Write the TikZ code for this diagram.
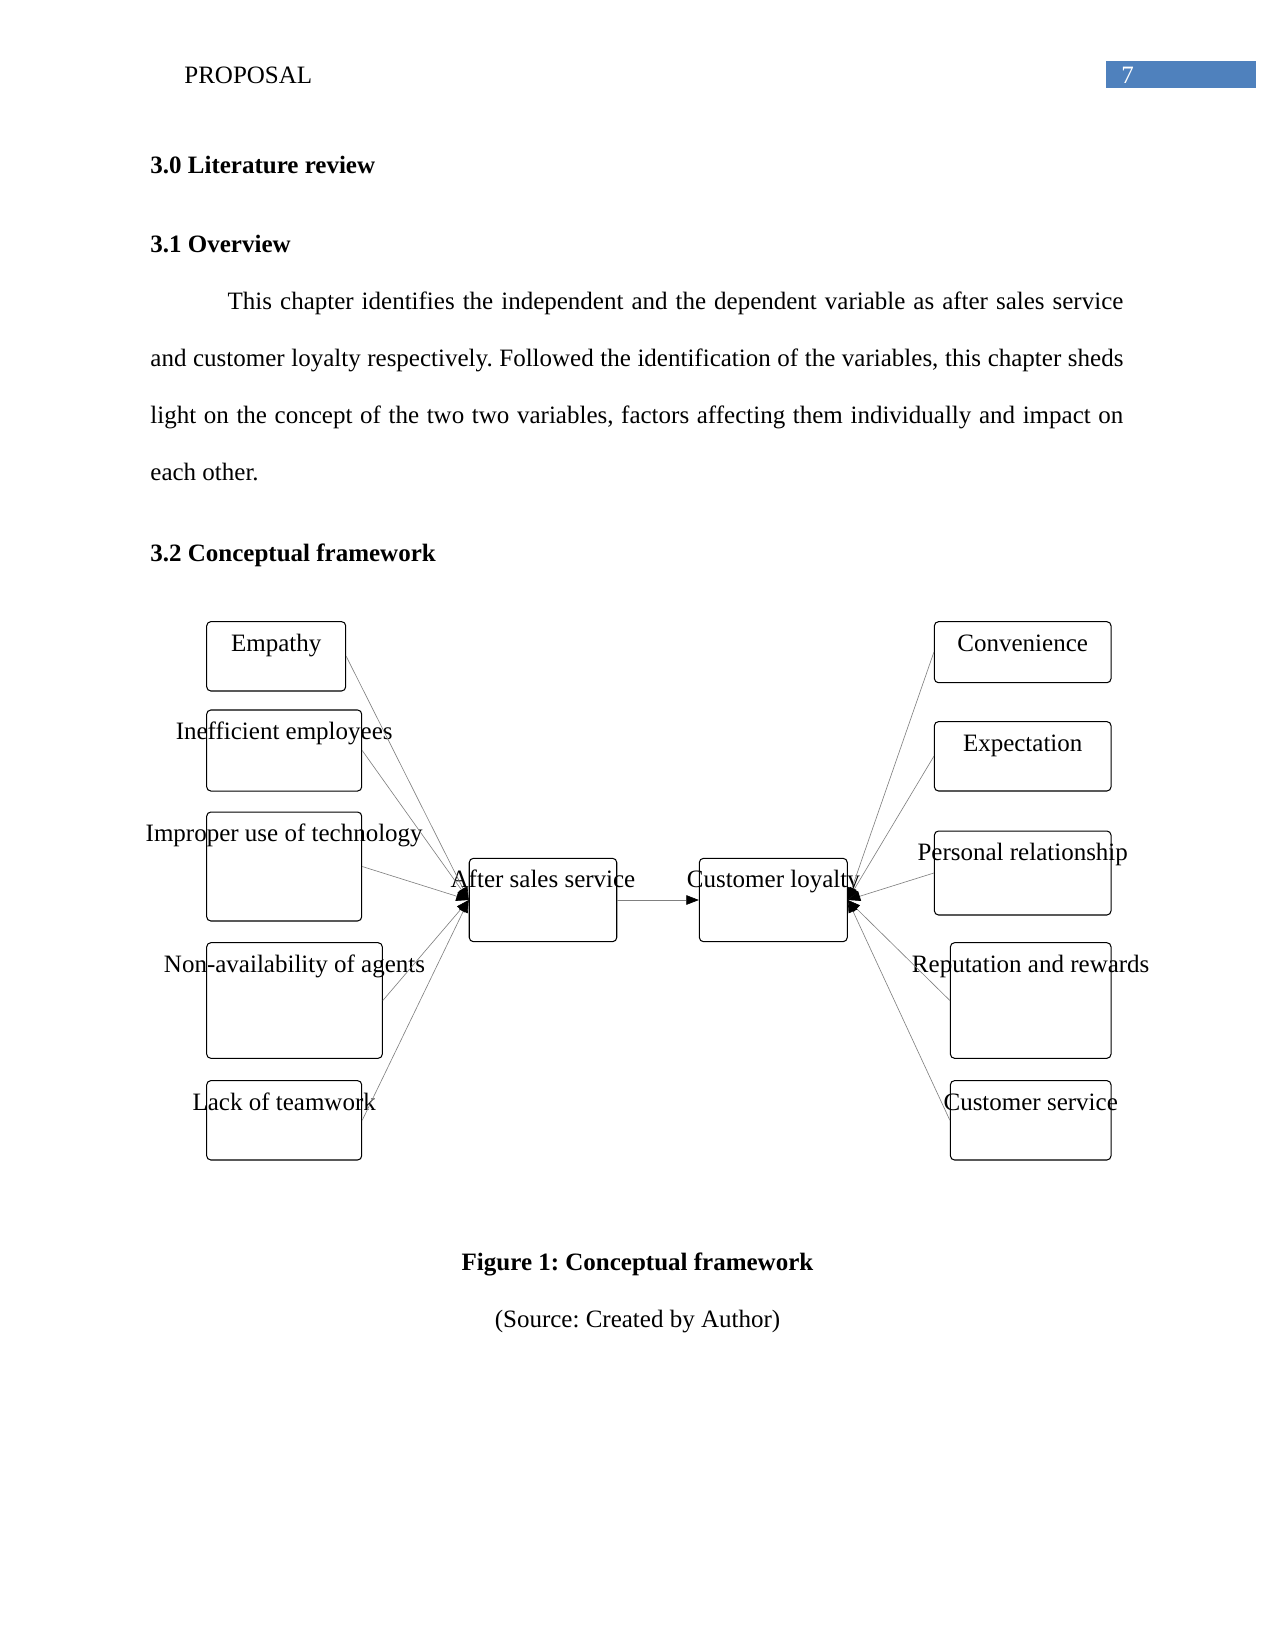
\documentclass[tikz,border=0pt]{standalone}
\usepackage{fontspec}
\setmainfont{Liberation Serif}
\usetikzlibrary{arrows.meta}
\definecolor{headblue}{RGB}{79,129,189}
\frenchspacing
\begin{document}
\begin{tikzpicture}[x=0.48pt,y=-0.48pt,
    factor/.style={draw,rounded corners=2pt,line width=0.5pt,inner sep=0pt},
    boxtext/.style={label={[anchor=base,yshift=-14.4pt,inner sep=0pt,font=\fontsize{12}{14}\selectfont]north:#1}},
    link/.style={draw=gray,line width=0.3pt,-{Triangle[length=6pt,width=4.6pt,color=black]}}]
    \useasboundingbox (0,0) rectangle (1275,1651);
    \fill[white] (0,0) rectangle (1275,1651);
    % Page header
    \node[inner sep=0pt,anchor=base west,font=\fontsize{12}{14}\selectfont] (header) at (184,83.5) {PROPOSAL};
    \fill[headblue] (1106,61) rectangle (1256,88.3);
    \node[inner sep=0pt,anchor=base west,text=white,font=\fontsize{12}{14}\selectfont] (pageno) at (1121,84) {7};
    % Headings and text
    \node[inner sep=0pt,anchor=base west,font=\fontsize{12}{14}\selectfont\bfseries] (litrev) at (150,174) {3.0 Literature review};
    \node[inner sep=0pt,anchor=base west,font=\fontsize{12}{14}\selectfont\bfseries] (overview) at (150,252) {3.1 Overview};
    \node[inner sep=0pt,anchor=base west] (para) at (150,309.5) {
        \parbox[t]{467pt}{\fontsize{12}{27.4}\selectfont
            \hspace*{37.1pt}This chapter identifies the independent and the dependent variable as after sales service\linebreak
            and customer loyalty respectively. Followed the identification of the variables, this chapter sheds\linebreak
            light on the concept of the two two variables, factors affecting them individually and impact on\linebreak
            each other.}
    };
    \node[inner sep=0pt,anchor=base west,font=\fontsize{12}{14}\selectfont\bfseries] (framework) at (150,561) {3.2 Conceptual framework};
    % Independent side
    \node[factor,minimum width=66.7pt,minimum height=33.3pt,boxtext=Empathy] (empathy) at (276.2,656.3) {};
    \node[factor,minimum width=74.4pt,minimum height=38.9pt,boxtext=Inefficient employees] (employees) at (284.2,750.5) {};
    \node[factor,minimum width=74.4pt,minimum height=52.3pt,boxtext=Improper use of technology] (technology) at (284.2,866.5) {};
    \node[factor,minimum width=84.3pt,minimum height=55.5pt,boxtext=Non-availability of agents] (agents) at (294.5,1000.5) {};
    \node[factor,minimum width=74.4pt,minimum height=38.1pt,boxtext=Lack of teamwork] (teamwork) at (284.2,1120.3) {};
    % Variables
    \node[factor,minimum width=70.8pt,minimum height=40pt,boxtext=After sales service] (service) at (543,900) {};
    \node[factor,minimum width=71pt,minimum height=40pt,boxtext=Customer loyalty] (loyalty) at (773.3,900) {};
    % Dependent side
    \node[factor,minimum width=84.8pt,minimum height=29.3pt,boxtext=Convenience] (convenience) at (1022.7,652.2) {};
    \node[factor,minimum width=84.8pt,minimum height=33.3pt,boxtext=Expectation] (expectation) at (1022.7,756.3) {};
    \node[factor,minimum width=84.8pt,minimum height=40.3pt,boxtext=Personal relationship] (relationship) at (1022.7,873) {};
    \node[factor,minimum width=77.1pt,minimum height=55.5pt,boxtext=Reputation and rewards] (rewards) at (1030.7,1000.5) {};
    \node[factor,minimum width=77.1pt,minimum height=38.1pt,boxtext=Customer service] (custservice) at (1030.7,1120.3) {};
    % Connectors
    \foreach \src in {empathy,employees,technology,agents,teamwork}
        \draw[link] (\src.east) -- (service.west);
    \foreach \src in {convenience,expectation,relationship,rewards,custservice}
        \draw[link] (\src.west) -- (loyalty.east);
    \draw[link] (service.east) -- (loyalty.west);
    % Caption
    \node[inner sep=0pt,anchor=base,font=\fontsize{12}{14}\selectfont\bfseries] (caption) at (637.5,1270) {Figure 1: Conceptual framework};
    \node[inner sep=0pt,anchor=base,font=\fontsize{12}{14}\selectfont] (source) at (637.5,1327) {(Source: Created by Author)};
\end{tikzpicture}
\end{document}
